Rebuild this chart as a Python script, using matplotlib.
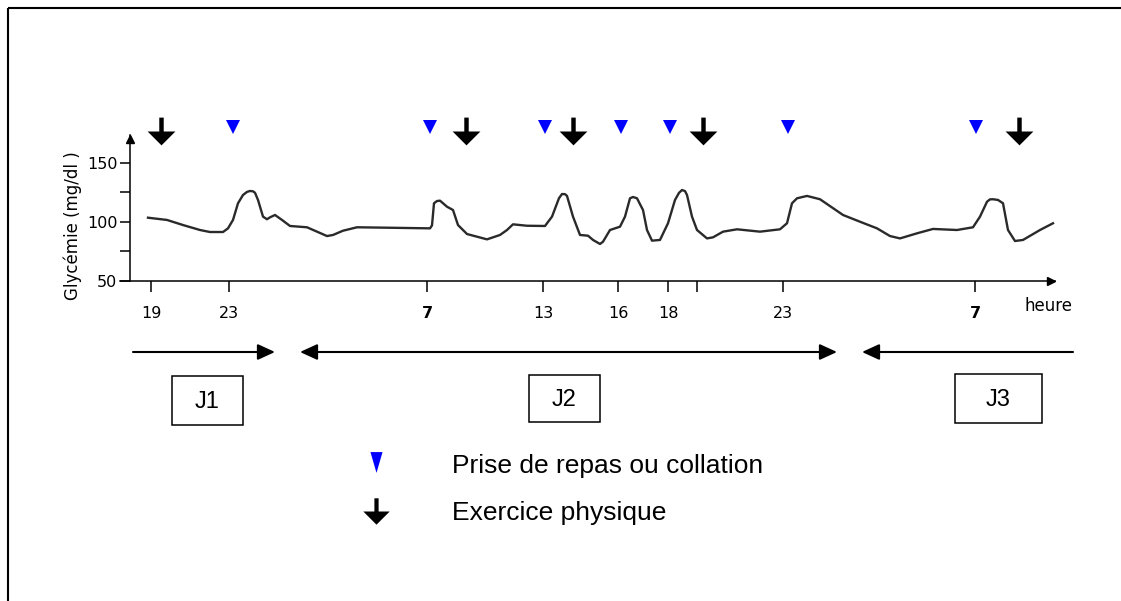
import matplotlib.pyplot as plt
from matplotlib.path import Path
from matplotlib.patches import Rectangle

# position along the drawn time axis (drawing units) and glycemia (mg/dl)
curve_pos = [148, 167, 183, 200, 210, 223, 228, 233, 238, 243, 247, 250, 253, 255, 258, 263,
             267, 270, 275, 282, 290, 307, 317, 327, 333, 343, 357, 383, 430, 432,
             434, 437, 440, 447, 453, 458, 467, 487, 500, 507, 513, 527, 545, 552,
             559, 562, 565, 567, 573, 580, 588, 593, 600, 603, 610, 620, 625, 630, 633, 637, 643,
             647, 652, 660, 668, 675, 679, 682, 685, 687, 692, 697, 707, 713, 723, 737, 760,
             780, 787, 792, 797, 807, 820, 843, 860, 877, 890, 900, 917, 933, 957,
             973, 980, 987, 990, 993, 998, 1003, 1008, 1015, 1023, 1040, 1053]
curve_glyc = [103.5, 101.6, 97.3, 93.1, 91.4, 91.4, 94.5, 101.6, 115.7, 122.7, 125.3, 126.1,
              125.8, 124.6, 118.5, 104.4, 102.2, 103.8, 105.8, 101.6, 96.5, 95.4, 91.7, 88.0,
              88.9, 92.5, 95.4, 95.1, 94.5, 97.0, 115.7, 117.6, 117.9, 112.8, 110.0,
              97.3, 89.7, 85.2, 88.9, 93.1, 97.9, 96.7, 96.5, 104.4, 120.0, 123.5, 123.4, 121.9,
              104.4, 88.9, 88.3, 84.7, 81.3, 83.2, 93.1, 95.9, 104.4, 119.9, 121.0, 119.9,
              110.0, 93.1, 84.1, 84.7, 98.8, 118.5, 124.5, 126.9, 126.0, 122.7, 104.4, 93.1, 86.0,
              86.9, 91.7, 93.7, 91.7, 93.7, 98.8, 115.7, 119.9, 121.9, 119.1, 105.8,
              100.1, 94.5, 88.0, 86.0, 90.3, 94.0, 93.1, 95.4, 104.4, 117.0, 119.0, 119.1,
              118.5, 115.7, 93.1, 83.8, 84.7, 93.1, 98.8]

tick_pos = [151, 229, 427, 543, 618, 668, 697, 783, 975]
tick_labels = ['19', '23', '7', '13', '16', '18', '', '23', '7']
y_ticks = [50, 75, 100, 125, 150]
y_labels = ['50', '', '100', '', '150']

meal_pos = [233, 430, 545, 621, 670, 788, 976]
exercise_pos = [161, 466, 573, 703, 1019]

days = ['J1', 'J2', 'J3']
legend_labels = ['Prise de repas ou collation', 'Exercice physique']

# marker shapes
arrow_marker = Path([(-0.08, 0.5), (0.08, 0.5), (0.08, 0.0), (0.5, 0.0), (0, -0.5),
                     (-0.5, 0.0), (-0.08, 0.0), (-0.08, 0.5)], closed=False)
tall_tri = Path([(-0.29, 0.5), (0.29, 0.5), (0, -0.5), (-0.29, 0.5)])

fig = plt.figure(figsize=(11.21, 6.01), dpi=100)

# page layer in pixel units
page = fig.add_axes([0, 0, 1, 1])
page.set_xlim(0, 1121)
page.set_ylim(601, 0)
page.axis('off')
page.add_patch(Rectangle((8, 8), 1300, 800, fill=False, lw=1.5, ec='black'))

ax = fig.add_axes([120 / 1121, 1 - 281 / 601, 935 / 1121, 146 / 601])
ax.patch.set_alpha(0)
ax.set_xlim(120, 1055)
ax.set_ylim(50, 173.4)
ax.plot(curve_pos, curve_glyc, color='#2a2a2a', lw=1.7, solid_joinstyle='round')

ax.plot(meal_pos, [179.8] * len(meal_pos), 'v', color='#0000ff', ms=9.5, mew=0, clip_on=False)
ax.plot(exercise_pos, [177] * len(exercise_pos), marker=arrow_marker, ls='none',
        color='black', ms=20, mew=0, clip_on=False)

for s in ['top', 'right']:
    ax.spines[s].set_visible(False)
ax.spines['left'].set_position(('data', 130))
ax.spines['left'].set_linewidth(1.1)
ax.spines['bottom'].set_linewidth(1.1)
ax.plot(1051, 50, '>', color='black', ms=6, clip_on=False)
ax.plot(130, 170, '^', color='black', ms=6, clip_on=False)

ax.set_xticks(tick_pos)
ax.set_xticklabels(tick_labels)
ax.set_yticks(y_ticks)
ax.set_yticklabels(y_labels)
ax.tick_params(axis='x', length=8, width=1.1, pad=10, labelsize=11.5)
ax.tick_params(axis='y', length=7, width=1.1, pad=2, labelsize=11.5)
for lab in ax.get_xticklabels():
    if lab.get_text() == '7':
        lab.set_fontweight('bold')
ax.set_ylabel('Glycémie (mg/dl )', fontsize=12)
ax.yaxis.set_label_coords(-0.041, 0.38)
page.text(1048, 306, 'heure', fontsize=12, ha='center', va='center')

# day spans
arr = dict(lw=1.5, color='black', shrinkA=0, shrinkB=0, mutation_scale=1)
page.annotate('', xy=(275, 352), xytext=(133, 352),
              arrowprops=dict(arrowstyle='-|>,head_length=10.5,head_width=4.8', **arr))
page.annotate('', xy=(837, 352), xytext=(300, 352),
              arrowprops=dict(arrowstyle='<|-|>,head_length=10.5,head_width=4.8', **arr))
page.annotate('', xy=(862, 352), xytext=(1073, 352),
              arrowprops=dict(arrowstyle='-|>,head_length=10.5,head_width=4.8', **arr))
page.plot([360, 386], [351.2, 351.2], color='white', lw=0.7)

boxes = [(172, 376, 71, 49), (529, 375, 71, 47), (955, 374, 87, 49)]
for name, (bx, by, bw, bh) in zip(days, boxes):
    page.add_patch(Rectangle((bx, by), bw, bh, fill=False, lw=1.1, ec='black'))
    page.text(bx + bw / 2, by + bh / 2 + 1, name, fontsize=17, family='Liberation Sans',
              ha='center', va='center')

# legend
page.plot(376, 462, marker=tall_tri, color='#0000ff', ms=15, mew=0)
page.plot(376, 511, marker=arrow_marker, color='black', ms=19, mew=0)
page.text(452, 466, legend_labels[0], fontsize=19, family='Liberation Sans', va='center')
page.text(452, 513, legend_labels[1], fontsize=19, family='Liberation Sans', va='center')

fig.savefig('out.png', dpi=100)
